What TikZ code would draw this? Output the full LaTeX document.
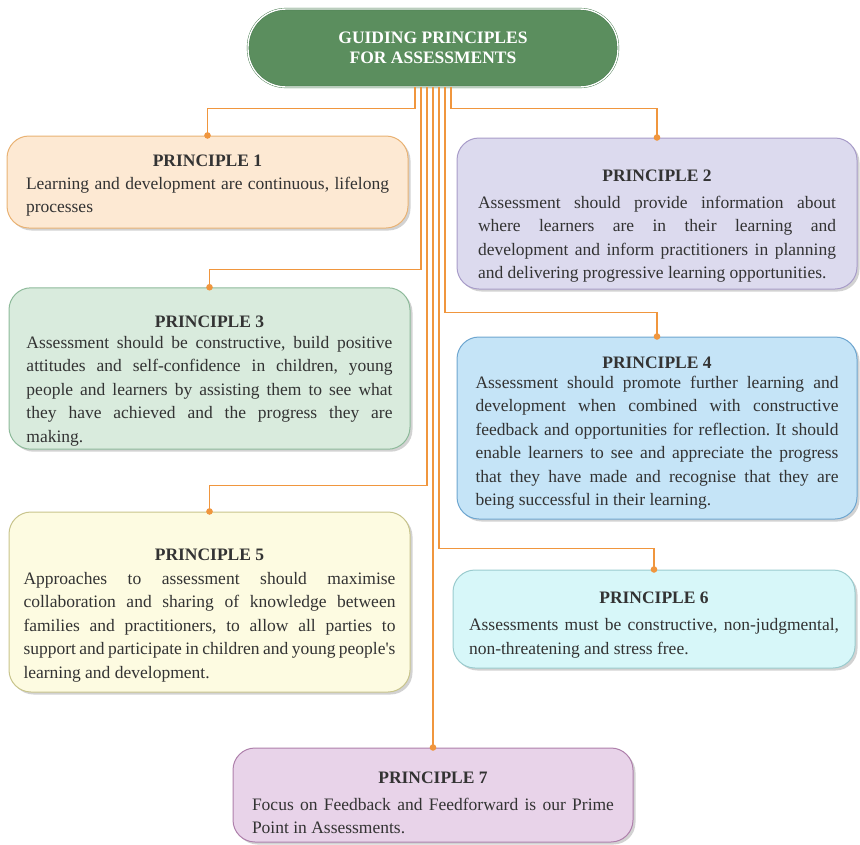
\documentclass[tikz,border=0pt]{standalone}
\usepackage{fontspec}
\setmainfont{Liberation Serif}
\usetikzlibrary{arrows.meta,shadows}

\definecolor{linkorange}{HTML}{F0963E}
\definecolor{titlefill}{HTML}{5B8E5E}
\definecolor{titleline}{HTML}{3F7447}
\definecolor{bodytext}{HTML}{333333}
\definecolor{p1fill}{HTML}{FDE9D3}\definecolor{p1line}{HTML}{E9B273}
\definecolor{p2fill}{HTML}{DCDAEE}\definecolor{p2line}{HTML}{A89CC9}
\definecolor{p3fill}{HTML}{D9EBDD}\definecolor{p3line}{HTML}{8DBA9A}
\definecolor{p4fill}{HTML}{C5E4F7}\definecolor{p4line}{HTML}{6EA6D0}
\definecolor{p5fill}{HTML}{FDFBE1}\definecolor{p5line}{HTML}{C8C48C}
\definecolor{p6fill}{HTML}{D7F7F9}\definecolor{p6line}{HTML}{9ACBCE}
\definecolor{p7fill}{HTML}{E8D3E9}\definecolor{p7line}{HTML}{AE80AB}

\newcommand{\bodyfont}{\fontsize{17.5}{23.5}\selectfont
  \spaceskip=.25em plus .6em minus .15em\relax\frenchspacing}
% heading: title, space above, space below
\newcommand{\phead}[3]{%
  {\centering\fontsize{17.5}{20}\selectfont\bfseries
   \rule{0pt}{\dimexpr\fontcharht\font`P+#2\relax}#1\par}\vspace{#3}}

\tikzset{
  box/.style={rectangle, rounded corners=22pt, fill=#1fill, draw=#1line,
    line width=1pt, text=bodytext, align=justify, text width=363pt,
    font=\bodyfont,
    drop shadow={shadow xshift=2.5pt, shadow yshift=-2.5pt, fill=black!35}},
  link/.style={draw=linkorange, line width=1.2pt,
    -{Circle[length=6.5pt]}, shorten >=-3.2pt},
}

\begin{document}
\begin{tikzpicture}[x=1pt,y=-1pt]
  \useasboundingbox (0,0) rectangle (860,844);

  \node[rectangle, rounded corners=38pt, fill=titlefill, draw=titleline,
    double=white, double distance=1.4pt, minimum width=370pt, minimum height=78pt,
    text=white, align=center, font=\fontsize{17.5}{20}\selectfont\bfseries]
    (title) at (433,48) {GUIDING PRINCIPLES\\FOR ASSESSMENTS};

  \node[box=p1, minimum width=401pt, minimum height=92pt] (p1) at (207.5,182)
    {\phead{PRINCIPLE 1}{8pt}{-1pt}Learning and development are continuous, lifelong\linebreak
     processes};
  \node[box=p2, minimum width=400pt, minimum height=151pt, text width=358pt]
    (p2) at (657,213.5)
    {\phead{PRINCIPLE 2}{26pt}{3pt}Assessment should provide information about\linebreak
     where learners are in their learning and\linebreak
     development and inform practitioners in planning\linebreak
     and delivering progressive learning opportunities.};
  \node[box=p3, minimum width=401pt, minimum height=145pt, text width=366pt]
    (p3) at (209.5,368.5)
    {\phead{PRINCIPLE 3}{25pt}{-3pt}Assessment should be constructive, build positive\linebreak
     attitudes and self-confidence in children, young\linebreak
     people and learners by assisting them to see what\linebreak
     they have achieved and the progress they are\linebreak
     making.};
  \node[box=p4, minimum width=400pt, minimum height=182pt] (p4) at (657,428)
    {\phead{PRINCIPLE 4}{11pt}{-4pt}Assessment should promote further learning and\linebreak
     development when combined with constructive\linebreak
     feedback and opportunities for reflection. It should\linebreak
     enable learners to see and appreciate the progress\linebreak
     that they have made and recognise that they are\linebreak
     being successful in their learning.};
  \node[box=p5, minimum width=401pt, minimum height=180pt, text width=372pt]
    (p5) at (209.5,602)
    {\phead{PRINCIPLE 5}{27pt}{0pt}Approaches to assessment should maximise\linebreak
     collaboration and sharing of knowledge between\linebreak
     families and practitioners, to allow all parties to\linebreak
     support and participate in children and young people\textquotesingle s\linebreak
     learning and development.};
  \node[box=p6, minimum width=402pt, minimum height=98pt, text width=370pt]
    (p6) at (654,619)
    {\phead{PRINCIPLE 6}{12pt}{3.6pt}Assessments must be constructive, non-judgmental,\linebreak
     non-threatening and stress free.};
  \node[box=p7, minimum width=400pt, minimum height=94pt, text width=362pt]
    (p7) at (433,795)
    {\phead{PRINCIPLE 7}{16pt}{3pt}Focus on Feedback and Feedforward is our Prime\linebreak
     Point in Assessments.};

  % connectors from the title
  \draw[link] ([xshift=-18pt]title.south) -- ++(0,21) -| (p1.north);
  \draw[link] ([xshift=18pt]title.south) -- ++(0,21) -| (p2.north);
  \draw[link] ([xshift=-12pt]title.south) -- ++(0,182) -| (p3.north);
  \draw[link] ([xshift=12pt]title.south) -- ++(0,225) -| (p4.north);
  \draw[link] ([xshift=-6pt]title.south) -- ++(0,398) -| (p5.north);
  \draw[link] ([xshift=6pt]title.south) -- ++(0,461) -| (p6.north);
  \draw[link] (title.south) -- (p7.north);
\end{tikzpicture}
\end{document}
